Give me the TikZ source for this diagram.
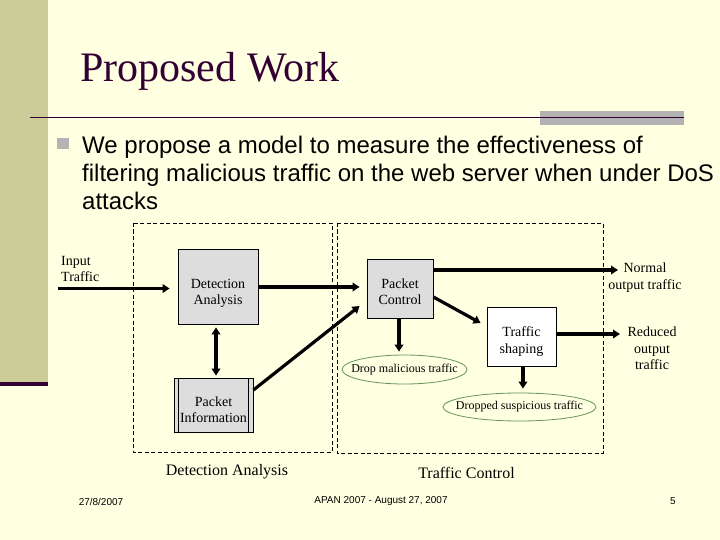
\documentclass[tikz,border=0pt]{standalone}
\usepackage{fontspec}
\setmainfont{Liberation Serif}
\setsansfont{Liberation Sans}
\usetikzlibrary{arrows.meta,shapes.geometric}
\definecolor{bg}{RGB}{255,255,226}
\definecolor{barcol}{RGB}{204,204,153}
\definecolor{maroon}{RGB}{51,0,51}
\definecolor{graybar}{RGB}{178,178,178}
\definecolor{bulletgray}{RGB}{180,180,180}
\definecolor{boxgray}{RGB}{221,221,221}
\definecolor{ellgreen}{RGB}{100,150,90}
\begin{document}
\begin{tikzpicture}[x=1pt,y=-1pt,
  boxtxt/.style={font=\fontsize{14}{16.5}\selectfont, align=center, inner sep=0pt},
  stepbox/.style={draw=black, line width=0.8pt, rectangle, inner sep=0pt},
  ovalbox/.style={draw=ellgreen, line width=0.8pt, ellipse, inner sep=0pt, font=\fontsize{12}{14}\selectfont},
  dashbox/.style={draw=black, line width=0.8pt, dash pattern=on 4pt off 2.5pt},
  arr/.style={line width=3.2pt, -{Triangle[length=7pt,width=8.5pt]}},
  darr/.style={line width=3.2pt, {Triangle[length=7pt,width=8.5pt]}-{Triangle[length=7pt,width=8.5pt]}},
  foot/.style={font=\sffamily\fontsize{10}{12}\selectfont, text=black, inner sep=0pt}
]
\useasboundingbox (0,0) rectangle (720,540);
\fill[bg] (0,0) rectangle (720,540);
% left bar
\fill[barcol] (0,0) rectangle (48,382);
\fill[maroon] (0,381.5) rectangle (48,386);
% header rule
\fill[graybar] (540,111) rectangle (684,125.5);
\draw[maroon, line width=1.6pt] (30,117.5) -- (684,117.5);
% title
\node[anchor=base west, inner sep=0pt, text=maroon, font=\fontsize{42}{48}\selectfont] (title) at (80,82) {Proposed Work};
% bullet
\fill[bulletgray] (57,138) rectangle (69,149.5);
\node[anchor=base west, inner sep=0pt, align=left, font=\sffamily\fontsize{24}{28}\selectfont] (body) at (82,210)
  {We propose a model to measure the effectiveness of\\filtering malicious traffic on the web server when under DoS\\attacks};

% dashed containers
\draw[dashbox] (133,223) rectangle (332,452);
\draw[dashbox] (337,223) rectangle (603,453);

% boxes
\node[stepbox, fill=boxgray, minimum width=80pt, minimum height=75pt] (DA) at (218,286.5) {};
\node[boxtxt] (DAt) at ([yshift=-7pt]DA.center) {Detection\\Analysis};
\node[stepbox, fill=boxgray, minimum width=79pt, minimum height=54pt] (PI) at (213.5,405) {};
\draw[line width=0.8pt] ([xshift=5pt]PI.north west) -- ([xshift=5pt]PI.south west);
\draw[line width=0.8pt] ([xshift=-5pt]PI.north east) -- ([xshift=-5pt]PI.south east);
\node[boxtxt] (PIt) at ([yshift=-4.5pt]PI.center) {Packet\\Information};
\node[stepbox, fill=boxgray, minimum width=66pt, minimum height=59pt] (PC) at (400,288.5) {};
\node[boxtxt] (PCt) at ([yshift=-3pt]PC.center) {Packet\\Control};
\node[stepbox, fill=white, minimum width=69pt, minimum height=59pt] (TS) at (521.5,336.5) {};
\node[boxtxt] (TSt) at ([yshift=-5pt]TS.center) {Traffic\\shaping};
\node[ovalbox, minimum width=125pt, minimum height=29pt] (Drop) at (404.5,369.5) {\makebox[0pt]{Drop malicious traffic}};
\node[ovalbox, minimum width=153pt, minimum height=28pt] (Dsus) at (519.5,407) {\makebox[0pt]{Dropped suspicious traffic}};

% free texts
\node[boxtxt, anchor=west, align=left] (inp) at (61,269) {Input\\Traffic};
\node[boxtxt] (normal) at (645,277.5) {Normal\\output traffic};
\node[boxtxt] (reduced) at (652,348.5) {Reduced\\output\\traffic};
\node[inner sep=0pt, font=\fontsize{16}{18}\selectfont] (labA) at (227,472) {Detection Analysis};
\node[inner sep=0pt, font=\fontsize{16}{18}\selectfont] (labB) at (466.5,473) {Traffic Control};

% coordinates for free ends
\coordinate (instart) at (58,288.5);
\coordinate (nout) at (618,270);
\coordinate (rout) at (620,334);

% connectors
\draw[arr, shorten >=8pt] (instart) -- (instart -| DA.west);
\draw[arr, shorten >=7pt] ([yshift=-0.5pt]DA.east) -- ([yshift=-0.5pt]DA.east -| PC.west);
\draw[darr, shorten >=2pt, shorten <=3pt] ([xshift=-2pt]DA.south) -- ([xshift=-2pt]DA.south |- PI.north);
\draw[arr] ([yshift=15pt]PI.east) -- ([xshift=-7pt,yshift=-17.5pt]PC.west);
\draw[arr] ([yshift=18.5pt]PC.east) -- (nout);
\draw[arr] ([yshift=-8.5pt]PC.east) -- ([xshift=-6pt,yshift=13.5pt]TS.west);
\draw[arr] ([yshift=2.5pt]TS.east) -- (rout);
\draw[arr, shorten >=3pt] ([xshift=-1pt]PC.south) -- ([xshift=-1pt]PC.south |- Drop.north);
\draw[arr, shorten >=4pt] ([xshift=1.5pt]TS.south) -- ([xshift=1.5pt]TS.south |- Dsus.north);

% footer
\node[foot] (date) at (101,502) {27/8/2007};
\node[foot] (conf) at (381,501) {APAN 2007 - August 27, 2007};
\node[foot] (page) at (673,501) {5};
\end{tikzpicture}
\end{document}
